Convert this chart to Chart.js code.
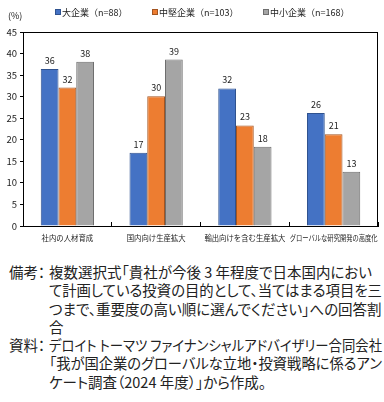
<!DOCTYPE html>
<html>
<head>
<meta charset="utf-8">
<script src="https://cdn.jsdelivr.net/npm/chart.js"></script>
<style>
  body { margin: 0; background: #fff; width: 384px; height: 402px; overflow: hidden; font-family: 'Noto Sans CJK JP', sans-serif; }
  #wrap { position: absolute; left: 0; top: 0; width: 384px; height: 250px; }
  .note { position: absolute; left: 9px; font-size: 14.5px; line-height: 18.3px; color: #222; white-space: nowrap; font-feature-settings: "palt"; }
  .note .h { position: absolute; left: 0; top: 0; }
  .note .b { margin-left: 40px; }
  .note .b span { display: inline-block; transform-origin: left center; }
</style>
</head>
<body>
<div id="wrap"><canvas id="chart"></canvas></div>
<div class="note" style="top:263px"><span class="h">備考：</span><div class="b"><span>複数選択式「貴社が今後 3 年程度で日本国内におい</span><br><span>て計画している投資の目的として、当てはまる項目を三</span><br><span>つまで、重要度の高い順に選んでください」への回答割</span><br><span>合</span></div></div>
<div class="note" style="top:336px"><span class="h">資料：</span><div class="b"><span>デロイト トーマツ ファイナンシャルアドバイザリー合同会社</span><br><span>「我が国企業のグローバルな立地・投資戦略に係るアン</span><br><span>ケート調査（2024 年度）」から作成。</span></div></div>
<script>
const categories = ['社内の人材育成', '国内向け生産拡大', '輸出向けを含む生産拡大', 'グローバルな研究開発の高度化'];
const seriesNames = ['大企業（n=88）', '中堅企業（n=103）', '中小企業（n=168）'];
const large = [36.4, 17.0, 31.9, 26.2];
const medium = [32.1, 30.1, 23.3, 21.3];
const small = [38.1, 38.6, 18.4, 12.6];
const yTicks = [0, 5, 10, 15, 20, 25, 30, 35, 40, 45];

const fills = ['#4472C4', '#ED7D31', '#A5A5A5'];
const edges = ['#2F528F', '#A35420', '#6E6E6E'];
const font = "'Noto Sans CJK JP', sans-serif";

// fit note lines to the text column width
document.querySelectorAll('.note .b span').forEach(s => {
  const w = s.getBoundingClientRect().width;
  if (w > 333) s.style.transform = 'scaleX(' + (333 / w) + ')';
});

const extras = {
  id: 'extras',
  afterDatasetsDraw(chart) {
    const ctx = chart.ctx;
    const a = chart.chartArea;
    ctx.save();
    // frame
    ctx.strokeStyle = '#000';
    ctx.lineWidth = 1;
    ctx.strokeRect(Math.round(a.left) + 0.5, Math.round(a.top) + 0.5, Math.round(a.right - a.left) - 1, Math.round(a.bottom - a.top));
    // value labels
    ctx.fillStyle = '#222';
    ctx.font = '9px ' + font;
    ctx.textAlign = 'center';
    ctx.textBaseline = 'bottom';
    chart.data.datasets.forEach((ds, i) => {
      chart.getDatasetMeta(i).data.forEach((bar, j) => {
        ctx.fillText(Math.round(ds.data[j]), bar.x, bar.y - 4);
      });
    });
    // category labels, squeezed to fit each slot
    const xs = chart.scales.x;
    ctx.font = '8px ' + font;
    ctx.textBaseline = 'middle';
    categories.forEach((c, i) => {
      const x = xs.getPixelForValue(i);
      const w = ctx.measureText(c).width;
      const sx = Math.min(0.92, 88 / w);
      ctx.save();
      ctx.translate(x, 238);
      ctx.scale(sx, 1);
      ctx.fillText(c, 0, 0);
      ctx.restore();
    });
    // unit
    ctx.font = '9px ' + font;
    ctx.textAlign = 'left';
    ctx.fillText('(%)', 8, 16);
    // legend
    const lx = [55, 152, 263];
    seriesNames.forEach((n, i) => {
      ctx.fillStyle = fills[i];
      ctx.fillRect(lx[i], 9, 6, 6);
      ctx.strokeStyle = edges[i];
      ctx.strokeRect(lx[i] + 0.5, 9.5, 5, 5);
      ctx.fillStyle = '#222';
      ctx.fillText(n, lx[i] + 7, 12.5);
    });
    ctx.restore();
  }
};

new Chart(document.getElementById('chart'), {
  type: 'bar',
  data: {
    labels: categories,
    datasets: [large, medium, small].map((d, i) => ({
      label: seriesNames[i],
      data: d,
      backgroundColor: fills[i],
      borderColor: edges[i],
      borderWidth: 1,
      categoryPercentage: 0.6,
      barPercentage: 1.0
    }))
  },
  options: {
    responsive: true,
    maintainAspectRatio: false,
    animation: false,
    layout: { padding: { top: 32, right: 6, left: 0, bottom: 0 } },
    plugins: { legend: { display: false }, tooltip: { enabled: false } },
    scales: {
      x: {
        grid: { display: true, offset: true, drawOnChartArea: false, drawTicks: true, tickLength: -4, color: '#000' },
        border: { color: '#000' },
        ticks: { display: false },
        afterFit(s) { s.height = 24; }
      },
      y: {
        min: 0,
        max: 45,
        afterBuildTicks(s) { s.ticks = yTicks.map(v => ({ value: v })); },
        grid: { display: true, drawOnChartArea: false, tickLength: 3, color: '#000' },
        border: { color: '#000' },
        ticks: { color: '#222', font: { family: font, size: 9.5 }, padding: 3 },
        afterFit(s) { s.width = 23; }
      }
    }
  },
  plugins: [extras]
});
</script>
</body>
</html>
